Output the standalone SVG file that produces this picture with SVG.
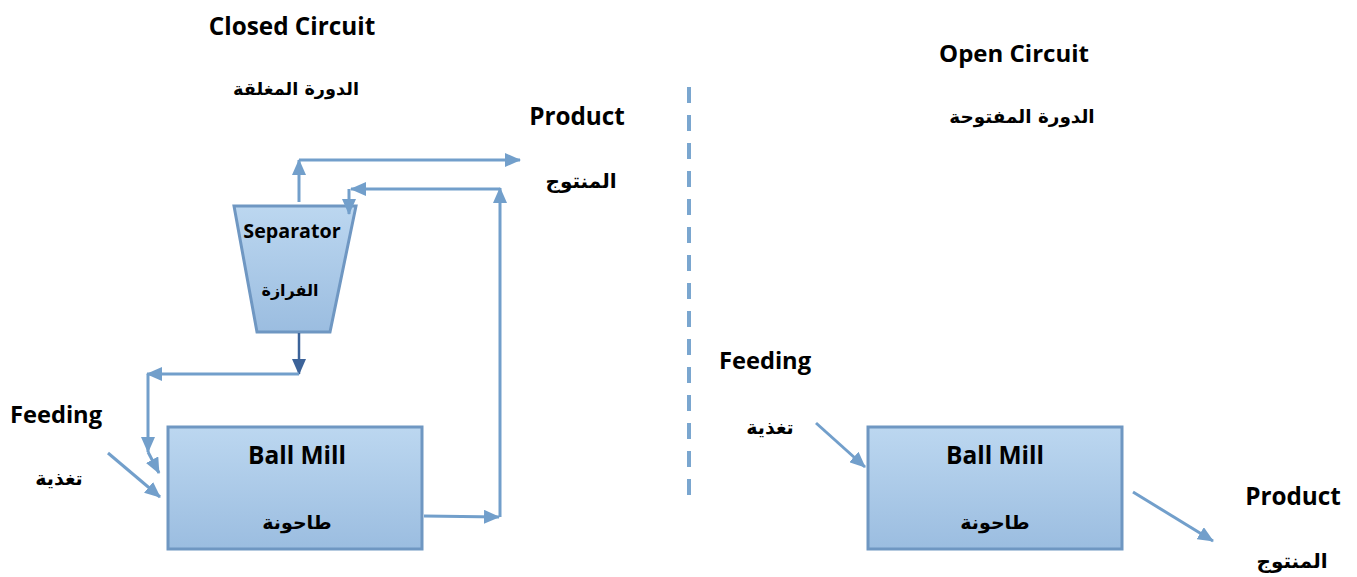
<svg xmlns="http://www.w3.org/2000/svg" width="1357" height="577" viewBox="0 0 1357 577">
<style>
.en{font-family:"Open Sans",Lato,"Liberation Sans",sans-serif;font-weight:bold;fill:#000;text-anchor:middle}
.ar{font-family:"DejaVu Sans","Noto Sans",sans-serif;font-weight:bold;fill:#000;text-anchor:middle}
.ln{fill:none;stroke:#729fcb;stroke-width:3}
.dk{fill:none;stroke:#3c6399;stroke-width:2.5}
.box{stroke:#6f97c2;stroke-width:3;fill:url(#g)}
</style>
<defs>
<linearGradient id="g" x1="0" y1="0" x2="0" y2="1">
<stop offset="0" stop-color="#bcd7f0"/>
<stop offset="1" stop-color="#9bbde0"/>
</linearGradient>
<marker id="a" markerUnits="userSpaceOnUse" markerWidth="16" markerHeight="14" refX="15" refY="7" orient="auto">
<path d="M0,0 L16,7 L0,14 z" fill="#729fcb"/>
</marker>
<marker id="ad" markerUnits="userSpaceOnUse" markerWidth="16" markerHeight="14" refX="15" refY="7" orient="auto">
<path d="M0,0 L16,7 L0,14 z" fill="#3c6399"/>
</marker>
</defs>

<g id="titles">
<text class="en" x="292" y="35" font-size="24.3">Closed Circuit</text>
<text class="ar" x="296" y="95" font-size="17.7">الدورة المغلقة</text>
<text class="en" x="1014" y="62" font-size="24">Open Circuit</text>
<text class="ar" x="1022" y="123" font-size="18.4">الدورة المفتوحة</text>
</g>

<g id="separator">
<path d="M234,206 L356,206 L330,332 L257,332 Z" class="box"/>
<text class="en" x="292" y="238" font-size="19.7">Separator</text>
<text class="ar" x="290" y="296" font-size="16">الفرازة</text>
</g>

<g id="ballmill-closed">
<rect x="168" y="427" width="254" height="122" class="box"/>
<text class="en" x="297" y="464" font-size="24.5">Ball Mill</text>
<text class="ar" x="297" y="529" font-size="19">طاحونة</text>
</g>

<g id="ballmill-open">
<rect x="868" y="427" width="254" height="122" class="box"/>
<text class="en" x="995" y="464" font-size="24.5">Ball Mill</text>
<text class="ar" x="995" y="529" font-size="19">طاحونة</text>
</g>

<g id="labels">
<text class="en" x="577" y="125" font-size="24.3">Product</text>
<text class="ar" x="581" y="188" font-size="20">المنتوج</text>
<text class="en" x="56" y="423" font-size="23.7">Feeding</text>
<text class="ar" x="59" y="485" font-size="19">تغذية</text>
<text class="en" x="765" y="369" font-size="23.7">Feeding</text>
<text class="ar" x="770" y="434" font-size="19">تغذية</text>
<text class="en" x="1293" y="505" font-size="24.3">Product</text>
<text class="ar" x="1292" y="568" font-size="20">المنتوج</text>
</g>

<g id="connectors">
<path class="ln" d="M299,202 L299,160" marker-end="url(#a)"/>
<path class="ln" d="M299,160 L520,160" marker-end="url(#a)"/>
<path class="ln" d="M424,516 L499,517" marker-end="url(#a)"/>
<path class="ln" d="M500,517 L500,188" marker-end="url(#a)"/>
<path class="ln" d="M500,189 L351,189" marker-end="url(#a)"/>
<path class="ln" d="M349,189 L349,214" marker-end="url(#a)"/>
<path class="dk" d="M299,333 L299,374" marker-end="url(#ad)"/>
<path class="ln" d="M299,374 L147,374" marker-end="url(#a)"/>
<path class="ln" d="M148,374 L148,452" marker-end="url(#a)"/>
<path class="ln" d="M148,452 L159,473" marker-end="url(#a)"/>
<path class="ln" d="M108,453 L160,497" marker-end="url(#a)"/>
<path class="ln" d="M816,423 L865,467" marker-end="url(#a)"/>
<path class="ln" d="M1133,492 L1213,541" marker-end="url(#a)"/>
<line x1="689" y1="87" x2="689" y2="495" stroke="#7aa6cf" stroke-width="4" stroke-dasharray="16 12"/>
</g>
</svg>
